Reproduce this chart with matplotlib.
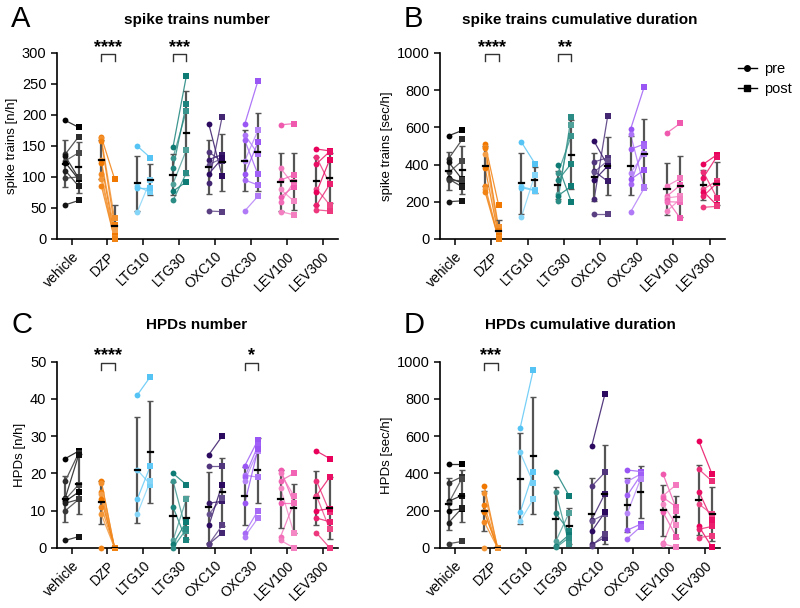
import numpy as np
import matplotlib.pyplot as plt
from matplotlib.lines import Line2D
from matplotlib.colors import to_rgb

plt.rcParams['font.family'] = ['Liberation Sans', 'DejaVu Sans']

groups = ['vehicle', 'DZP', 'LTG10', 'LTG30', 'OXC10', 'OXC30', 'LEV100', 'LEV300']
group_colors = ['#000000', '#F07800', '#55C4F5', '#0E7C74', '#2B0A60', '#9A55F5', '#F05AAE', '#E8005A']

# A - spike trains number [n/h]
st_num_pre = [
    [191, 137, 133, 126, 123, 110, 98, 55],
    [165, 163, 158, 127, 122, 104, 96, 86],
    [150, 85, 82, 43],
    [148, 131, 114, 89, 77, 62],
    [185, 140, 128, 120, 105, 91, 45],
    [185, 168, 159, 126, 104, 95, 45],
    [184, 114, 95, 80, 68, 59, 44],
    [145, 132, 121, 81, 75, 54, 47],
]
st_num_post = [
    [180, 165, 98, 139, 96, 85, 100, 62],
    [97, 33, 22, 14, 5, 2, 0, 0],
    [131, 75, 82, 95],
    [262, 206, 217, 143, 92, 106],
    [101, 125, 136, 130, 130, 197, 44],
    [255, 137, 104, 175, 156, 87, 69],
    [186, 87, 103, 61, 84, 92, 39],
    [142, 89, 141, 55, 128, 88, 45],
]

# B - spike trains cumulative duration [sec/h]
st_dur_pre = [
    [555, 432, 412, 358, 330, 322, 318, 200],
    [510, 495, 490, 455, 382, 285, 270, 252],
    [520, 282, 275, 120],
    [398, 352, 315, 242, 232, 205],
    [524, 414, 364, 360, 316, 216, 134],
    [590, 562, 482, 355, 320, 298, 145],
    [570, 285, 230, 220, 210, 200, 150],
    [402, 360, 330, 268, 255, 230, 170],
]
st_dur_post = [
    [583, 535, 320, 420, 300, 280, 318, 205],
    [183, 65, 45, 30, 15, 5, 0, 0],
    [405, 262, 260, 345],
    [200, 555, 405, 610, 283, 658],
    [395, 437, 310, 420, 392, 660, 134],
    [815, 280, 510, 458, 370, 500, 272],
    [622, 325, 290, 230, 110, 198, 215],
    [452, 222, 442, 312, 182, 300, 175],
]

# C - HPDs number [n/h]
hpd_num_pre = [
    [24, 18, 13.5, 13, 12.5, 12, 10, 2],
    [18, 17.5, 15, 14.5, 13, 11, 9, 0],
    [41, 21, 13, 9],
    [20, 18, 11, 2, 1, 0],
    [25, 22, 12, 9, 6, 1, 1],
    [22, 19.5, 19, 18, 12, 4, 3],
    [21, 20, 18, 16, 12, 3, 2],
    [26, 18, 14, 14, 10, 8, 4],
]
hpd_num_post = [
    [26, 25.5, 25, 17, 15, 13, 13, 3],
    [0, 0, 0, 0, 0, 0, 0, 0],
    [46, 17, 22, 18],
    [17, 4.5, 2, 13, 7, 5],
    [30, 22, 12.5, 13.5, 17, 4, 6],
    [29, 19, 27.5, 26, 26.5, 10, 8],
    [12, 14, 20, 4, 12, 12, 0],
    [24, 9.6, 19, 5, 10.5, 7, 0],
]

# D - HPDs cumulative duration [sec/h]
hpd_dur_pre = [
    [448, 348, 250, 240, 200, 135, 22],
    [330, 295, 228, 200, 190, 138, 0],
    [643, 513, 190, 142],
    [407, 299, 185, 36, 9, 2],
    [545, 330, 150, 145, 88, 18, 10],
    [418, 357, 283, 188, 95, 50],
    [395, 280, 270, 235, 190, 25, 22],
    [573, 422, 302, 235, 115, 100, 55],
]
hpd_dur_post = [
    [448, 382, 281, 372, 210, 213, 34],
    [0, 0, 0, 0, 0, 0, 0],
    [957, 349, 407, 262],
    [280, 22, 90, 188, 70, 55],
    [825, 405, 290, 180, 190, 55, 75],
    [410, 396, 389, 370, 127, 113],
    [210, 340, 220, 120, 60, 200, 2],
    [395, 358, 148, 180, 2, 115, 65],
]

# subject shade: mix with white
mix = [0.0, 0.18, 0.06, 0.28, 0.0, 0.12, 0.22, 0.08]


def shade(c, k):
    r = np.array(to_rgb(c))
    return tuple(r + (1 - r) * k)


def draw_panel(ax, pre, post, ymax, ystep, ylabel, sig):
    for g, (a, b) in enumerate(zip(pre, post)):
        xa, xb = g - 0.17, g + 0.2
        base = group_colors[g]
        for i, (va, vb) in enumerate(zip(a, b)):
            c = shade(base, mix[i % len(mix)])
            ax.plot([xa, xb], [va, vb], color=c, lw=0.9, alpha=0.8, zorder=2)
            ax.plot(xa, va, 'o', color=c, ms=4.2, mew=0, zorder=4, clip_on=False)
            ax.plot(xb, vb, 's', color=c, ms=4.6, mew=0, zorder=4, clip_on=False)
        for x, v in ((xa, a), (xb, b)):
            m, s = np.mean(v), np.std(v, ddof=1)
            ax.errorbar(x, m, yerr=s, fmt='none', ecolor='#555555', elinewidth=1.6,
                        capsize=2.5, capthick=1.0, zorder=3)
            ax.plot([x - 0.07, x + 0.07], [m, m], color='k', lw=1.6, zorder=5)

    for g, stars in sig:
        xa, xb = g - 0.17, g + 0.2
        top, leg = ymax * 0.995, ymax * 0.955
        ax.plot([xa, xa, xb, xb], [leg, top, top, leg], color='#333333', lw=1.0,
                clip_on=False, zorder=6)
        ax.text((xa + xb) / 2, ymax * 0.985, stars, ha='center', va='bottom',
                fontsize=13, fontweight='bold')

    ax.set_xlim(-0.41, 7.42)
    ax.set_ylim(0, ymax)
    ax.set_yticks(np.arange(0, ymax + 1, ystep))
    ax.set_xticks(range(len(groups)))
    ax.set_xticklabels(groups, rotation=45, ha='right', rotation_mode='anchor', fontsize=10)
    ax.tick_params(axis='y', labelsize=10.5, width=1.1, length=4)
    ax.tick_params(axis='x', width=1.1, length=4)
    ax.set_ylabel(ylabel, fontsize=9.5, labelpad=3)
    for sp in ('top', 'right'):
        ax.spines[sp].set_visible(False)
    for sp in ('left', 'bottom'):
        ax.spines[sp].set_linewidth(1.2)


fig = plt.figure(figsize=(8, 6.08), dpi=100)
axA = fig.add_axes([0.071, 0.607, 0.351, 0.306])
axB = fig.add_axes([0.55, 0.607, 0.356, 0.306])
axC = fig.add_axes([0.071, 0.099, 0.351, 0.306])
axD = fig.add_axes([0.55, 0.099, 0.35, 0.306])

draw_panel(axA, st_num_pre, st_num_post, 300, 50, 'spike trains [n/h]',
           [(1, '****'), (3, '***')])
draw_panel(axB, st_dur_pre, st_dur_post, 1000, 200, 'spike trains [sec/h]',
           [(1, '****'), (3, '**')])
draw_panel(axC, hpd_num_pre, hpd_num_post, 50, 10, 'HPDs [n/h]',
           [(1, '****'), (5, '*')])
draw_panel(axD, hpd_dur_pre, hpd_dur_post, 1000, 200, 'HPDs [sec/h]',
           [(1, '***')])

# titles and panel letters
fig.text(0.246, 0.967, 'spike trains number', ha='center', va='center', fontsize=11, fontweight='bold')
fig.text(0.725, 0.967, 'spike trains cumulative duration', ha='center', va='center', fontsize=11, fontweight='bold')
fig.text(0.246, 0.465, 'HPDs number', ha='center', va='center', fontsize=11, fontweight='bold')
fig.text(0.725, 0.465, 'HPDs cumulative duration', ha='center', va='center', fontsize=11, fontweight='bold')
for lx, ly, lt in ((0.014, 0.968, 'A'), (0.505, 0.968, 'B'), (0.014, 0.466, 'C'), (0.505, 0.466, 'D')):
    fig.text(lx, ly, lt, ha='left', va='center', fontsize=21)

handles = [Line2D([], [], color='k', marker='o', ms=4, lw=1),
           Line2D([], [], color='k', marker='s', ms=4.5, lw=1)]
axB.legend(handles, ['pre', 'post'], loc='upper left', bbox_to_anchor=(1.0, 1.02),
           frameon=False, handlelength=1.3, handletextpad=0.5, fontsize=10.5, labelspacing=0.4)

fig.savefig('out.png', dpi=100)
